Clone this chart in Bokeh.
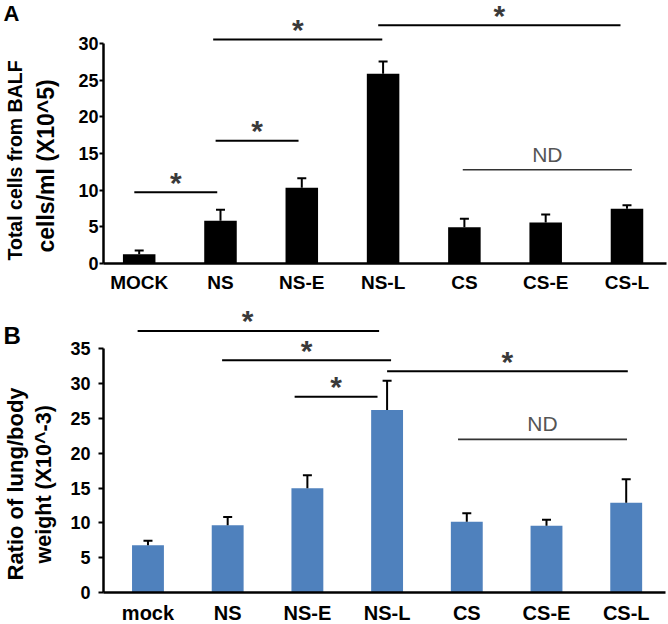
from bokeh.plotting import figure
from bokeh.models import Range1d, FixedTicker, Title, ColumnDataSource
from bokeh.layouts import column
from bokeh.embed import file_html
from bokeh.resources import INLINE
from bokeh.core.properties import value

# ---------------- data ----------------
cats_a = ["MOCK", "NS", "NS-E", "NS-L", "CS", "CS-E", "CS-L"]
vals_a = [1.27, 5.82, 10.32, 25.87, 4.95, 5.59, 7.46]
errs_a = [0.50, 1.50, 1.31, 1.68, 1.15, 1.09, 0.49]
ticks_a = [0, 5, 10, 15, 20, 25, 30]

cats_b = ["mock", "NS", "NS-E", "NS-L", "CS", "CS-E", "CS-L"]
vals_b = [6.78, 9.67, 14.96, 26.2, 10.17, 9.6, 12.9]
errs_b = [0.66, 1.19, 1.87, 4.2, 1.23, 0.86, 3.36]
ticks_b = [0, 5, 10, 15, 20, 25, 30, 35]

# significance brackets: (from, to, level, label)
brackets_a = [
    ("MOCK", "NS", 9.72, "*"),
    ("NS", "NS-E", 16.73, "*"),
    ("NS", "NS-L", 30.55, "*"),
    ("NS-L", "CS-L", 32.5, "*"),
    ("CS", "CS-L", 12.78, "ND"),
]
brackets_b = [
    ("mock", "NS-L", 37.56, "*"),
    ("NS", "NS-L", 33.35, "*"),
    ("NS-E", "NS-L", 28.12, "*"),
    ("NS-L", "CS-L", 31.77, "*"),
    ("CS", "CS-L", 22.0, "ND"),
]
# bracket end paddings (category units) and label position along the line
pads_a = [(-0.06, -0.04, 0.5), (-0.06, -0.04, 0.5), (-0.09, -0.01, 0.5),
          (-0.06, -0.08, 0.5), (-0.02, 0.06, 0.5)]
pads_b = [(-0.13, -0.10, 0.455), (-0.07, 0.05, 0.5), (-0.16, -0.12, 0.5),
          (0.0, 0.02, 0.5), (-0.11, 0.01, 0.5)]

FONT = "Liberation Sans"


def spacer(px):
    return Title(text=" ", text_font_size="1px", standoff=px)


def make_panel(cats, vals, errs, ticks, brackets, pads, bar_color, xr, yr,
               fw, fh, bl, br, bb, cat_size, cat_standoff, tick_out, tick_standoff,
               ybound, titles, letter, letter_size, letter_off):
    p = figure(frame_width=fw, frame_height=fh,
               x_range=Range1d(*xr), y_range=Range1d(*yr),
               output_backend="svg", toolbar_location=None,
               min_border_left=bl, min_border_right=br,
               min_border_top=0, min_border_bottom=bb)
    p.outline_line_color = None
    p.grid.visible = False
    p.background_fill_color = "white"
    p.border_fill_color = "white"

    xs = list(range(len(cats)))
    src = ColumnDataSource(dict(x=xs, top=vals,
                                etop=[v + e for v, e in zip(vals, errs)]))
    p.vbar(x="x", top="top", bottom=0, width=0.4, source=src,
           fill_color=bar_color, line_color=None)
    p.segment(x0="x", y0="top", x1="x", y1="etop", source=src,
              line_color="black", line_width=2)
    p.scatter(x="x", y="etop", marker="dash", size=9, source=src,
              line_color="black", line_width=2)

    idx = {c: i for i, c in enumerate(cats)}
    for (a, b, lvl, lab), (pa, pb, frac) in zip(brackets, pads):
        x0 = idx[a] + pa
        x1 = idx[b] + pb
        is_nd = lab == "ND"
        p.segment(x0=[x0], y0=[lvl], x1=[x1], y1=[lvl],
                  line_color="#333333" if is_nd else "black",
                  line_width=1.6 if is_nd else 2)
        if is_nd:
            p.text(x=[x0 + (x1 - x0) * frac], y=[lvl], text=[lab],
                   text_font=value(FONT), text_font_size="21px",
                   text_color="#555555", text_align="center",
                   text_baseline="alphabetic", y_offset=-15.5)
        else:
            p.text(x=[x0 + (x1 - x0) * frac], y=[lvl], text=[lab],
                   text_font=value(FONT), text_font_size="30px",
                   text_font_style="bold", text_color="#3a3a3a",
                   text_align="center", text_baseline="alphabetic",
                   y_offset=-10)

    # panel letter, drawn on the overlay level so it is not clipped to the frame
    p.text(x=[xr[0]], y=[yr[1]], text=[letter], text_font=value(FONT),
           text_font_size=letter_size, text_font_style="bold",
           text_color="black", text_align="left", text_baseline="alphabetic",
           x_offset=letter_off[0], y_offset=letter_off[1], level="overlay")

    xa = p.xaxis[0]
    xa.ticker = FixedTicker(ticks=xs)
    xa.major_label_overrides = {i: c for i, c in enumerate(cats)}
    xa.major_tick_out = 0
    xa.major_tick_in = 0
    xa.minor_tick_out = 0
    xa.minor_tick_in = 0
    xa.axis_line_width = 2.5
    xa.axis_line_color = "black"
    xa.major_label_text_font = FONT
    xa.major_label_text_font_style = "bold"
    xa.major_label_text_font_size = cat_size
    xa.major_label_text_color = "black"
    xa.major_label_standoff = cat_standoff

    ya = p.yaxis[0]
    ya.ticker = FixedTicker(ticks=ticks)
    ya.bounds = ybound
    ya.major_tick_out = tick_out
    ya.major_tick_in = 0
    ya.minor_tick_out = 0
    ya.minor_tick_in = 0
    ya.major_tick_line_width = 2
    ya.axis_line_width = 2.5
    ya.axis_line_color = "black"
    ya.major_label_text_font = FONT
    ya.major_label_text_font_style = "bold"
    ya.major_label_text_font_size = "18px"
    ya.major_label_text_color = "black"
    ya.major_label_standoff = tick_standoff

    # y-axis title lines, stacked outward from the axis
    for kind, *args in titles:
        if kind == "space":
            p.add_layout(spacer(args[0]), "left")
        else:
            text, size, off, valign = args
            p.add_layout(Title(text=text, align="left", offset=off, standoff=0,
                               vertical_align=valign, text_font=FONT,
                               text_font_style="bold", text_font_size=size,
                               text_color="black"), "left")
    return p


pa = make_panel(cats_a, vals_a, errs_a, ticks_a, brackets_a, pads_a, "black",
                (-0.439, 6.486), (0, 35.865), 563, 263, 103, 2, 37,
                "19px", 8, 4, 1, (0, 30),
                [("space", 14),
                 ("title", "cells/ml (X10^5)", "23px", 11, "bottom"),
                 ("space", 1.5),
                 ("title", "Total cells from BALF", "19.5px", 3, "bottom")],
                "A", "22px", (-100, 13))

pb = make_panel(cats_b, vals_b, errs_b, ticks_b, brackets_b, pads_b, "#4f81bd",
                (-0.558, 6.493), (0, 41.94), 562, 292, 103, 3, 32,
                "20px", 9, 5, 8, (0, 35),
                [("space", 9.2),
                 ("title", "weight (X10^-3)", "21.5px", 29, "bottom"),
                 ("title", "Ratio of lung/body", "22px", 12, "top")],
                "B", "24px", (-100, 35))

layout = column(pa, pb, spacing=0)
open("out.html", "w").write(file_html(layout, INLINE))
